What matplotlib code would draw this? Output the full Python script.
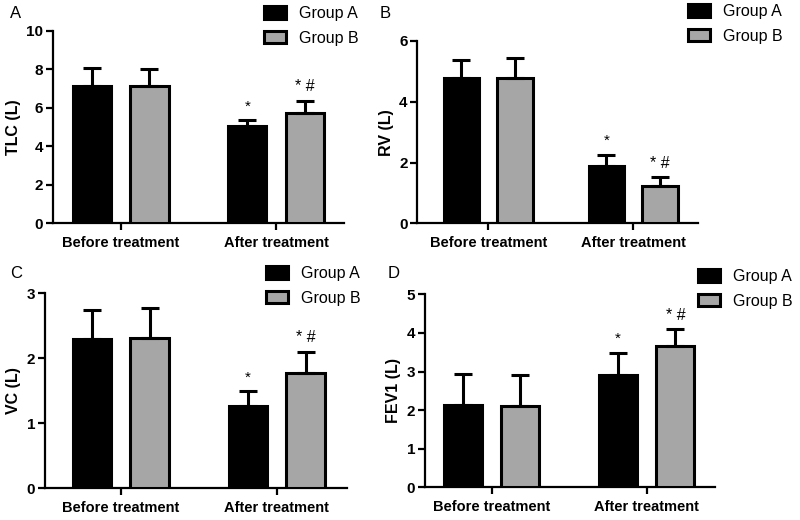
import matplotlib
matplotlib.use("Agg")
import matplotlib.pyplot as plt
import numpy as np

plt.rcParams['font.family'] = ['Liberation Sans', 'DejaVu Sans']

categories = ["Before treatment", "After treatment"]
groups = ["Group A", "Group B"]

tlc_a = [7.13, 5.07]
tlc_a_err = [0.92, 0.29]
tlc_b = [7.13, 5.75]
tlc_b_err = [0.90, 0.62]

rv_a = [4.77, 1.89]
rv_a_err = [0.62, 0.37]
rv_b = [4.77, 1.24]
rv_b_err = [0.66, 0.28]

vc_a = [2.30, 1.27]
vc_a_err = [0.45, 0.22]
vc_b = [2.32, 1.78]
vc_b_err = [0.46, 0.32]

fev_a = [2.14, 2.92]
fev_a_err = [0.80, 0.56]
fev_b = [2.11, 3.65]
fev_b_err = [0.80, 0.44]

marks_a = ["", "*"]
marks_b = ["", "* #"]

panels = [
    dict(letter="A", ylabel="TLC (L)", a=tlc_a, ae=tlc_a_err, b=tlc_b, be=tlc_b_err,
         ylim=10, ticks=[0, 2, 4, 6, 8, 10], rect=[53, 223.3, 344, 30.7], xl=(-0.436, 1.437),
         letter_xy=(10, 13), leg=(268, 13)),
    dict(letter="B", ylabel="RV (L)", a=rv_a, ae=rv_a_err, b=rv_b, be=rv_b_err,
         ylim=6, ticks=[0, 2, 4, 6], rect=[417.3, 223.3, 698, 41], xl=(-0.49, 1.447),
         letter_xy=(380, 13), leg=(692, 11)),
    dict(letter="C", ylabel="VC (L)", a=vc_a, ae=vc_a_err, b=vc_b, be=vc_b_err,
         ylim=3, ticks=[0, 1, 2, 3], rect=[45, 488.3, 346.7, 293.3], xl=(-0.485, 1.449),
         letter_xy=(10, 274), leg=(270, 273)),
    dict(letter="D", ylabel="FEV1 (L)", a=fev_a, ae=fev_a_err, b=fev_b, be=fev_b_err,
         ylim=5, ticks=[0, 1, 2, 3, 4, 5], rect=[425, 487.3, 715, 294.3], xl=(-0.43, 1.44),
         letter_xy=(388, 274), leg=(702, 276)),
]

W, H = 800, 520
fig = plt.figure(figsize=(8, 5.2), dpi=100)

gray = "#a6a6a6"
width = 0.245
off = 0.185
x = np.arange(len(categories))

for p in panels:
    l, bt, r, tp = p["rect"]
    ax = fig.add_axes([l / W, 1 - bt / H, (r - l) / W, (bt - tp) / H])
    ba = ax.bar(x - off, p["a"], width, color="black", edgecolor="black", linewidth=2.2,
                yerr=[[0, 0], p["ae"]], capsize=6.5,
                error_kw=dict(elinewidth=2.2, capthick=2.2, ecolor="black"), label=groups[0], zorder=3)
    bb = ax.bar(x + off, p["b"], width, color=gray, edgecolor="black", linewidth=2.2,
                yerr=[[0, 0], p["be"]], capsize=6.5,
                error_kw=dict(elinewidth=2.2, capthick=2.2, ecolor="black"), label=groups[1], zorder=3)
    ymax = p["ylim"]
    for i in range(len(categories)):
        if marks_a[i]:
            ax.text(x[i] - off, p["a"][i] + p["ae"][i] + ymax * 0.035, marks_a[i],
                    ha="center", va="bottom", fontsize=11)
        if marks_b[i]:
            ax.text(x[i] + off, p["b"][i] + p["be"][i] + ymax * 0.035, marks_b[i],
                    ha="center", va="bottom", fontsize=11.5)
    ax.set_ylim(0, ymax)
    ax.set_xlim(*p["xl"])
    ax.set_yticks(p["ticks"])
    ax.set_xticks(x)
    ax.set_xticklabels(categories, fontsize=10.5, fontweight="bold")
    for lab in ax.get_yticklabels():
        lab.set_fontweight("bold")
        lab.set_fontsize(11)
    ax.set_ylabel(p["ylabel"], fontsize=11.5, fontweight="bold")
    for s in ["top", "right"]:
        ax.spines[s].set_visible(False)
    for s in ["left", "bottom"]:
        ax.spines[s].set_linewidth(1.6)
    ax.tick_params(axis="y", width=1.6, length=5, pad=2)
    ax.tick_params(axis="x", width=1.6, length=5, pad=4)
    fig.text(p["letter_xy"][0] / W, 1 - p["letter_xy"][1] / H, p["letter"],
             fontsize=12, ha="left", va="center")
    lx, ly = p["leg"]
    ax.legend(handles=[ba, bb], labels=groups, loc="upper left",
              bbox_to_anchor=((lx - 4) / W, 1 - (ly - 7) / H), bbox_transform=fig.transFigure,
              frameon=False, fontsize=11.5, handlelength=1.4, handleheight=0.8,
              handletextpad=0.8, labelspacing=0.6, borderpad=0, borderaxespad=0)

fig.savefig("out.png", dpi=100)
